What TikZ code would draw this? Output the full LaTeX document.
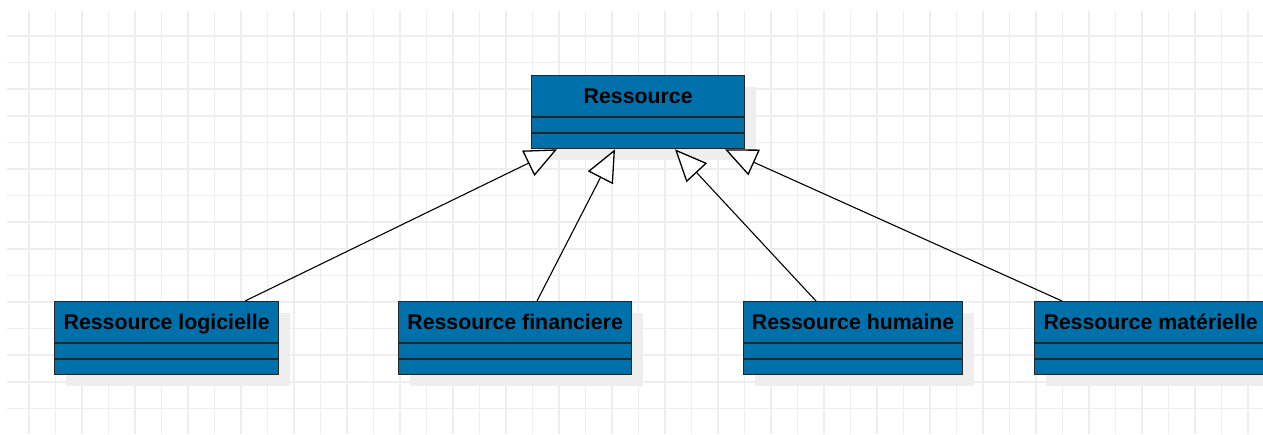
\documentclass[tikz,border=0pt]{standalone}
\usepackage{fontspec}
\setmainfont{Liberation Sans}
\usetikzlibrary{arrows.meta,shadows}
\definecolor{umlblue}{RGB}{0,112,170}
\definecolor{gridgray}{RGB}{238,238,238}
\definecolor{shadowgray}{RGB}{238,238,238}
\tikzset{
  gridline/.style={draw=gridgray, line width=1.6pt},
  cls/.style={draw=black!85, line width=1.3pt, fill=umlblue, anchor=north west,
    inner sep=0pt, minimum height=73pt, text height=28pt, text depth=45pt,
    font=\fontsize{21.3pt}{24pt}\selectfont\bfseries,
    drop shadow={shadow xshift=11pt, shadow yshift=-11pt, fill=shadowgray, opacity=1}},
  sepline/.style={draw=black!85, line width=1.6pt},
  gen/.style={draw=black, line width=1.1pt,
    -{Triangle[open, length=32pt, width=28pt, line width=1.3pt, fill=white]}}
}
\begin{document}
\begin{tikzpicture}[x=1pt,y=-1pt]
\useasboundingbox (0,0) rectangle (1263,434);
\fill[white] (0,0) rectangle (1263,434);
% grid
\foreach \i in {0,...,46} \draw[gridline] ({29+26.5*\i},11) -- ({29+26.5*\i},434);
\foreach \j in {0,...,14} \draw[gridline] (7,{36+26.6*\j}) -- (1263,{36+26.6*\j});
% classes
\node[cls, minimum width=213pt] (res) at (531,75) {Ressource};
\node[cls, minimum width=224pt] (log) at (54,301) {Ressource logicielle};
\node[cls, minimum width=233pt] (fin) at (398,301) {Ressource financiere};
\node[cls, minimum width=219pt] (hum) at (743,301) {Ressource humaine};
\node[cls, minimum width=232pt] (mat) at (1034,301) {Ressource matérielle};
\foreach \n in {res,log,fin,hum,mat}{
  \draw[sepline] ([yshift=-42pt]\n.north west) -- ([yshift=-42pt]\n.north east);
  \draw[sepline] ([yshift=-58pt]\n.north west) -- ([yshift=-58pt]\n.north east);
}
% generalisations
\draw[gen] ([xshift=191pt]log.north west) -- ([xshift=26pt]res.south west);
\draw[gen] ([xshift=139pt]fin.north west) -- ([xshift=84pt]res.south west);
\draw[gen] ([xshift=73pt]hum.north west) -- ([xshift=144pt]res.south west);
\draw[gen] ([xshift=28pt]mat.north west) -- ([xshift=194pt]res.south west);
\end{tikzpicture}
\end{document}
